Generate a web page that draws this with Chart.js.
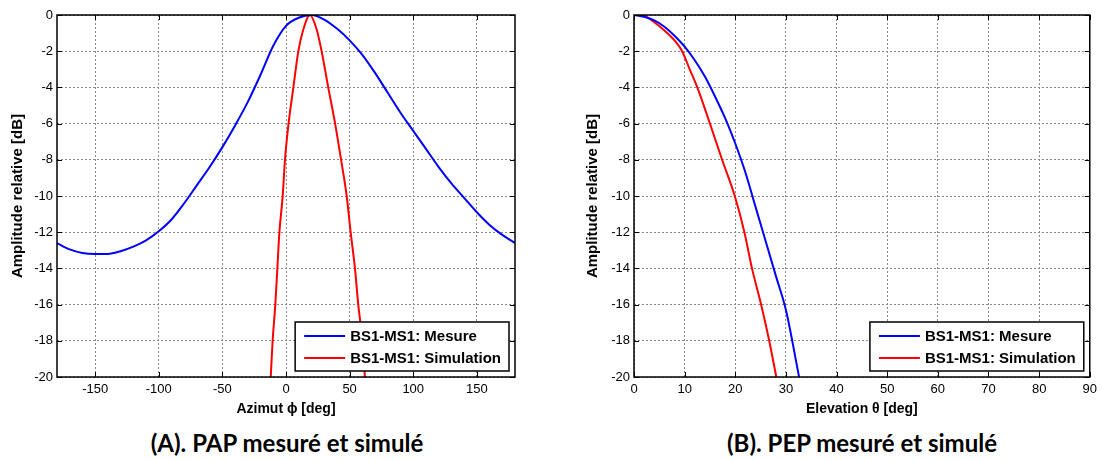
<!DOCTYPE html>
<html>
<head>
<meta charset="utf-8">
<script src="https://cdn.jsdelivr.net/npm/chart.js@4"></script>
<style>
  body { margin: 0; background: #fff; width: 1102px; height: 460px; position: relative; overflow: hidden; }
  .plot { position: absolute; top: 0; }
  .caption { position: absolute; top: 429px; font: bold 24px Lato, "Open Sans", sans-serif; color: #000;
             transform: translateX(-50%); white-space: nowrap; line-height: 28px; }
</style>
</head>
<body>
<div class="plot" style="left:0"><canvas id="chartPAP" width="560" height="425"></canvas></div>
<div class="plot" style="left:570px"><canvas id="chartPEP" width="532" height="425"></canvas></div>
<div class="caption" style="left:287px">(A). PAP mesuré et simulé</div>
<div class="caption" style="left:862px">(B). PEP mesuré et simulé</div>
<script>
// --- Data ---
const seriesLabels = ["BS1-MS1: Mesure", "BS1-MS1: Simulation"];

// (A) azimuth pattern
const azimutDeg = [-180, -170, -160, -150, -140, -130, -120, -110, -100, -90, -80, -70, -60, -50, -40, -30, -20, -10,
  0, 10, 20, 30, 40, 50, 60, 70, 80, 90, 100, 110, 120, 130, 140, 150, 160, 170, 180];
const papMesure = [-12.6, -12.95, -13.15, -13.2, -13.2, -13.05, -12.8, -12.45, -11.95, -11.3, -10.4, -9.4, -8.4, -7.3, -6.1, -4.8, -3.3, -1.7,
  -0.6, -0.15, 0, -0.25, -0.75, -1.4, -2.2, -3.2, -4.3, -5.4, -6.4, -7.4, -8.4, -9.3, -10.1, -10.9, -11.6, -12.15, -12.6];
const papSimAz = [-12, -10.5, -8.4, -6.8, -5.2, -2.6, -0.8, 2, 5.8, 9.7, 13.6, 18.8, 24.1, 28, 33.2, 38.6, 43.3, 47.7, 50.8, 54.2, 56.8, 60, 62];
const papSimulation = [-20, -18, -16, -14, -12, -10, -8, -6, -4, -2, -0.8, 0, -0.8, -2, -4, -6, -8, -10, -12, -14, -16, -18, -20];
const azimutTicks = [-150, -100, -50, 0, 50, 100, 150];

// (B) elevation pattern
const elevMesDeg = [0, 2, 4, 6, 8, 10, 12, 14, 16, 18, 20, 22, 24, 26, 28, 30, 32.6];
const pepMesure = [0, -0.1, -0.3, -0.65, -1.15, -1.75, -2.5, -3.4, -4.5, -5.7, -7.1, -8.7, -10.6, -12.5, -14.4, -16.3, -20];
const elevSimDeg = [0, 2, 4, 6, 8, 9.5, 11, 12.5, 15, 17.4, 19.9, 21.8, 23.3, 25.1, 26.7, 28.1];
const pepSimulation = [0, -0.05, -0.4, -0.85, -1.4, -2, -3, -4, -6, -8, -10, -12, -14, -16, -18, -20];
const elevationTicks = [0, 10, 20, 30, 40, 50, 60, 70, 80, 90];

const yTitle = "Amplitude relative [dB]";

function toPoints(xs, ys) {
  return xs.map((x, i) => ({ x: x, y: ys[i] }));
}

// --- MATLAB-like frame, inward ticks and boxed legend ---
const matlabFrame = {
  id: "matlabFrame",
  afterDraw(chart) {
    const { ctx, chartArea: a, scales } = chart;
    ctx.save();
    ctx.strokeStyle = "#000";
    ctx.lineWidth = 1;
    ctx.setLineDash([]);
    ctx.beginPath();
    scales.x.ticks.forEach((t) => {
      const px = Math.round(scales.x.getPixelForValue(t.value)) + 0.5;
      ctx.moveTo(px, a.bottom); ctx.lineTo(px, a.bottom - 5);
      ctx.moveTo(px, a.top); ctx.lineTo(px, a.top + 5);
    });
    scales.y.ticks.forEach((t) => {
      const py = Math.round(scales.y.getPixelForValue(t.value)) + 0.5;
      ctx.moveTo(a.left, py); ctx.lineTo(a.left + 5, py);
      ctx.moveTo(a.right, py); ctx.lineTo(a.right - 5, py);
    });
    ctx.stroke();

    ctx.lineWidth = 1.5;
    ctx.strokeRect(a.left, a.top, a.right - a.left, a.bottom - a.top);

    // legend box in the lower right corner
    ctx.font = "bold 15px Arial, 'Liberation Sans', sans-serif";
    const ds = chart.data.datasets;
    const textW = Math.max(...ds.map((d) => ctx.measureText(d.label).width));
    const boxW = 55 + textW + 8;
    const boxH = 49;
    const bx = a.right - 6 - boxW;
    const by = a.bottom - 6 - boxH;
    ctx.fillStyle = "#fff";
    ctx.fillRect(bx, by, boxW, boxH);
    ctx.lineWidth = 1.5;
    ctx.strokeRect(bx, by, boxW, boxH);
    ds.forEach((d, i) => {
      const ly = by + 14 + i * 22;
      ctx.strokeStyle = d.borderColor;
      ctx.lineWidth = 2;
      ctx.beginPath();
      ctx.moveTo(bx + 9, ly); ctx.lineTo(bx + 50, ly);
      ctx.stroke();
      ctx.fillStyle = "#000";
      ctx.textBaseline = "middle";
      ctx.textAlign = "left";
      ctx.fillText(d.label, bx + 55, ly + 1);
    });
    ctx.restore();
  },
};

const tickFont = { family: "Arial, 'Liberation Sans', sans-serif", size: 13 };
const xTitleFont = { family: "Arial, 'Liberation Sans', sans-serif", size: 14, weight: "bold" };
const yTitleFont = { family: "Arial, 'Liberation Sans', sans-serif", size: 15, weight: "bold" };
const gridOpts = { color: "#8a8a8a", lineWidth: 1, drawTicks: false };

function makeChart(id, cfg) {
  return new Chart(document.getElementById(id), {
    type: "line",
    data: {
      datasets: [
        { label: seriesLabels[0], data: cfg.mesure, borderColor: "#0000ff", borderWidth: 2,
          pointRadius: 0, cubicInterpolationMode: "monotone", fill: false },
        { label: seriesLabels[1], data: cfg.sim, borderColor: "#ff0000", borderWidth: 2,
          pointRadius: 0, cubicInterpolationMode: "monotone", fill: false },
      ],
    },
    options: {
      responsive: false,
      animation: false,
      devicePixelRatio: 1,
      layout: { padding: { top: 15, right: cfg.padRight, left: 0, bottom: 0 } },
      plugins: { legend: { display: false }, tooltip: { enabled: false } },
      scales: {
        x: {
          type: "linear",
          min: cfg.xMin,
          max: cfg.xMax,
          afterBuildTicks: (s) => { s.ticks = cfg.xTicks.map((v) => ({ value: v })); },
          afterFit: (s) => { s.height = 48; },
          ticks: { padding: 5, color: "#000", font: tickFont, maxRotation: 0, autoSkip: false },
          grid: gridOpts,
          border: { display: false, dash: [2, 2] },
          title: { display: true, text: cfg.xTitle, color: "#000", font: xTitleFont, padding: { top: 0, bottom: 7 } },
        },
        y: {
          type: "linear",
          min: -20,
          max: 0,
          afterFit: (s) => { s.width = cfg.yWidth; },
          ticks: { stepSize: 2, padding: 4, color: "#000", font: tickFont },
          grid: gridOpts,
          border: { display: false, dash: [2, 2] },
          title: { display: true, text: yTitle, color: "#000", font: yTitleFont, padding: { top: cfg.yTitlePad, bottom: 0 } },
        },
      },
    },
    plugins: [matlabFrame],
  });
}

document.addEventListener("DOMContentLoaded", () => {
  makeChart("chartPAP", {
    mesure: toPoints(azimutDeg, papMesure),
    sim: toPoints(papSimAz, papSimulation),
    xMin: -180, xMax: 180, xTicks: azimutTicks,
    xTitle: "Azimut ϕ [deg]",
    padRight: 45, yWidth: 57, yTitlePad: 9,
  });
  makeChart("chartPEP", {
    mesure: toPoints(elevMesDeg, pepMesure),
    sim: toPoints(elevSimDeg, pepSimulation),
    xMin: 0, xMax: 90, xTicks: elevationTicks,
    xTitle: "Elevation θ [deg]",
    padRight: 11, yWidth: 64, yTitlePad: 14,
  });
});
</script>
</body>
</html>
